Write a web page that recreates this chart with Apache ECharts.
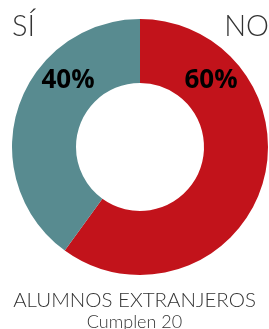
<!DOCTYPE html>
<html>
<head>
<meta charset="utf-8">
<script src="https://cdn.jsdelivr.net/npm/echarts@6/dist/echarts.min.js"></script>
<style>
  html, body { margin: 0; padding: 0; background: #fff; }
  #chart { width: 269px; height: 329px; }
</style>
</head>
<body>
<div id="chart"></div>
<script>
var categories = ['NO', 'SÍ'];
var values = [60, 40];
var colors = ['#C2131B', '#588B90'];
var titleText = 'ALUMNOS EXTRANJEROS';
var subText = 'Cumplen 20';

var chart = echarts.init(document.getElementById('chart'));

// posiciones de las etiquetas de porcentaje
var labelPos = [[211, 81], [68, 81]];

var option = {
    animation: false,
    title: {
        text: titleText,
        subtext: subText,
        left: 'center',
        top: 285,
        itemGap: 2,
        padding: [5, 0, 5, 8],
        textStyle: { fontFamily: 'Lato', fontWeight: 300, fontSize: 20.5, color: '#333' },
        subtextStyle: { fontFamily: 'Lato', fontWeight: 300, fontSize: 18, color: '#333' }
    },
    graphic: [
        { type: 'text', left: 12, top: 12, style: { text: categories[1], font: '300 29px Lato', fill: '#333' } },
        { type: 'text', right: 0, top: 12, style: { text: categories[0], font: '300 29px Lato', fill: '#333' } }
    ],
    series: [{
        type: 'pie',
        center: [140, 147],
        radius: [64, 128],
        startAngle: 90,
        clockwise: true,
        silent: true,
        data: categories.map(function (c, i) {
            return { name: c, value: values[i], itemStyle: { color: colors[i] } };
        }),
        label: {
            show: true,
            position: 'inside',
            formatter: '{c}%',
            fontFamily: 'Open Sans',
            fontWeight: 'bold',
            fontSize: 26,
            color: '#000'
        },
        labelLine: { show: false },
        labelLayout: function (params) {
            var p = labelPos[params.dataIndex];
            return { x: p[0], y: p[1], align: 'center', verticalAlign: 'middle' };
        }
    }]
};
chart.setOption(option);
</script>
</body>
</html>
